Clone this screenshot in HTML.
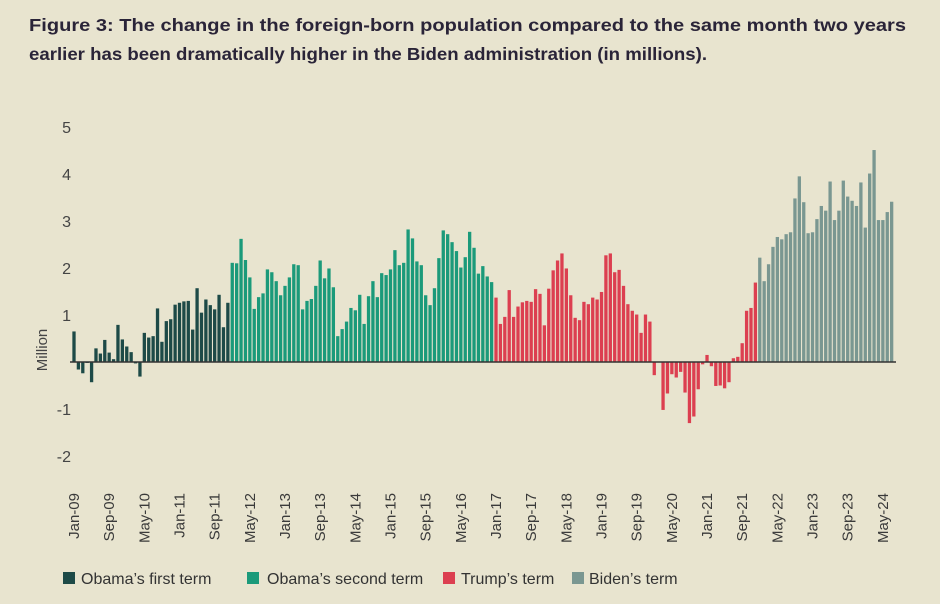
<!DOCTYPE html>
<html><head><meta charset="utf-8"><style>
html,body{margin:0;padding:0;background:#e8e4cf;}
svg{display:block;font-family:"Liberation Sans",sans-serif;}
</style></head><body>
<svg id="chart" width="940" height="604" viewBox="0 0 940 604">
<rect width="940" height="604" fill="#e8e4cf"/>
<text x="29" y="31" font-size="17.5" font-weight="bold" fill="#2a2438" textLength="877" lengthAdjust="spacingAndGlyphs">Figure 3: The change in the foreign-born population compared to the same month two years</text>
<text x="29" y="60" font-size="17.5" font-weight="bold" fill="#2a2438" textLength="678" lengthAdjust="spacingAndGlyphs">earlier has been dramatically higher in the Biden administration (in millions).</text>
<text transform="translate(47,350) rotate(-90)" text-anchor="middle" font-size="15" fill="#444">Million</text>
<g id="yticks"></g>
<g id="bars"></g>
<line x1="70" x2="896" y1="362" y2="362" stroke="#333" stroke-width="1.5"/>
<g id="xticks"></g>
<g font-size="16" fill="#333">
 <g><rect x="63" y="572" width="12" height="12" fill="#1d4a47"/><text x="81" y="584">Obama’s first term</text></g>
 <g><rect x="247" y="572" width="12" height="12" fill="#1b9a7a"/><text x="267" y="584">Obama’s second term</text></g>
 <g><rect x="443" y="572" width="12" height="12" fill="#dc3f50"/><text x="461" y="584">Trump’s term</text></g>
 <g><rect x="572" y="572" width="12" height="12" fill="#7a9791"/><text x="589" y="584">Biden’s term</text></g>
</g>
</svg>
<script>
const obamaFirst = [0.65,-0.16,-0.24,-0.02,-0.43,0.29,0.18,0.47,0.2,0.06,0.79,0.48,0.33,0.21,-0.03,-0.31,0.62,0.52,0.55,1.14,0.43,0.87,0.91,1.22,1.26,1.29,1.3,0.69,1.57,1.05,1.33,1.21,1.12,1.43,0.74,1.26];
const obamaSecond = [2.11,2.1,2.62,2.17,1.8,1.13,1.38,1.46,1.97,1.91,1.72,1.42,1.62,1.8,2.08,2.06,1.12,1.3,1.34,1.62,2.16,1.78,1.99,1.59,0.55,0.7,0.86,1.15,1.1,1.43,0.81,1.4,1.72,1.38,1.89,1.85,1.97,2.38,2.06,2.11,2.82,2.63,2.14,2.06,1.42,1.21,1.57,2.21,2.8,2.72,2.55,2.36,2.01,2.23,2.77,2.43,1.88,2.04,1.82,1.7];
const trumpTerm = [1.37,0.81,0.96,1.53,0.96,1.18,1.27,1.3,1.28,1.55,1.45,0.78,1.56,1.95,2.16,2.31,1.99,1.42,0.94,0.89,1.28,1.23,1.37,1.33,1.49,2.27,2.31,1.91,1.96,1.62,1.23,1.09,1.01,0.62,1.01,0.86,-0.28,0,-1.02,-0.67,-0.26,-0.33,-0.21,-0.65,-1.3,-1.16,-0.58,-0.05,0.15,-0.09,-0.51,-0.5,-0.56,-0.43,0.08,0.11,0.4,1.09,1.15,1.69];
const bidenTerm = [2.22,1.72,2.08,2.45,2.66,2.61,2.72,2.76,3.48,3.95,3.4,2.74,2.76,3.04,3.32,3.22,3.84,3.02,3.22,3.86,3.52,3.43,3.32,3.82,2.86,4.01,4.51,3.02,3.02,3.19,3.41];
const yTicks = [-2,-1,1,2,3,4,5];
const xTickLabels = ["Jan-09","Sep-09","May-10","Jan-11","Sep-11","May-12","Jan-13","Sep-13","May-14","Jan-15","Sep-15","May-16","Jan-17","Sep-17","May-18","Jan-19","Sep-19","May-20","Jan-21","Sep-21","May-22","Jan-23","Sep-23","May-24"];
const tickEvery = 8;

const NS="http://www.w3.org/2000/svg";
const x0=74, step=4.396, barW=3.3;
const xScale=i=>x0+i*step;
const y0=362, unit=47;
const yScale=v=>y0-v*unit;

const series=[[obamaFirst,"#1d4a47","obama-first"],[obamaSecond,"#1b9a7a","obama-second"],[trumpTerm,"#dc3f50","trump"],[bidenTerm,"#7a9791","biden"]];
const gb=document.getElementById("bars");
let idx=0;
series.forEach(([arr,col,nm])=>{
  arr.forEach(v=>{
    const r=document.createElementNS(NS,"rect");
    const yt=Math.min(yScale(v),yScale(0)), h=Math.abs(yScale(v)-yScale(0));
    r.setAttribute("x",xScale(idx)-barW/2);
    r.setAttribute("y",yt);
    r.setAttribute("width",barW);
    r.setAttribute("height",h);
    r.setAttribute("fill",col);
    
    
    gb.appendChild(r);
    idx++;
  });
});
const gy=document.getElementById("yticks");
yTicks.forEach(t=>{
  const tx=document.createElementNS(NS,"text");
  tx.setAttribute("x",71);
  tx.setAttribute("y",yScale(t)+6);
  tx.setAttribute("text-anchor","end");
  tx.setAttribute("font-size","16");
  tx.setAttribute("fill","#444");
  tx.textContent=t;
  
  
  gy.appendChild(tx);
});
const gx=document.getElementById("xticks");
xTickLabels.forEach((l,k)=>{
  const tx=document.createElementNS(NS,"text");
  const xx=xScale(k*tickEvery)+5;
  tx.setAttribute("transform","translate("+xx+",493) rotate(-90)");
  tx.setAttribute("text-anchor","end");
  tx.setAttribute("font-size","15");
  tx.setAttribute("fill","#3a3a3a");
  tx.textContent=l;
  
  
  gx.appendChild(tx);
});
</script>
</body></html>
